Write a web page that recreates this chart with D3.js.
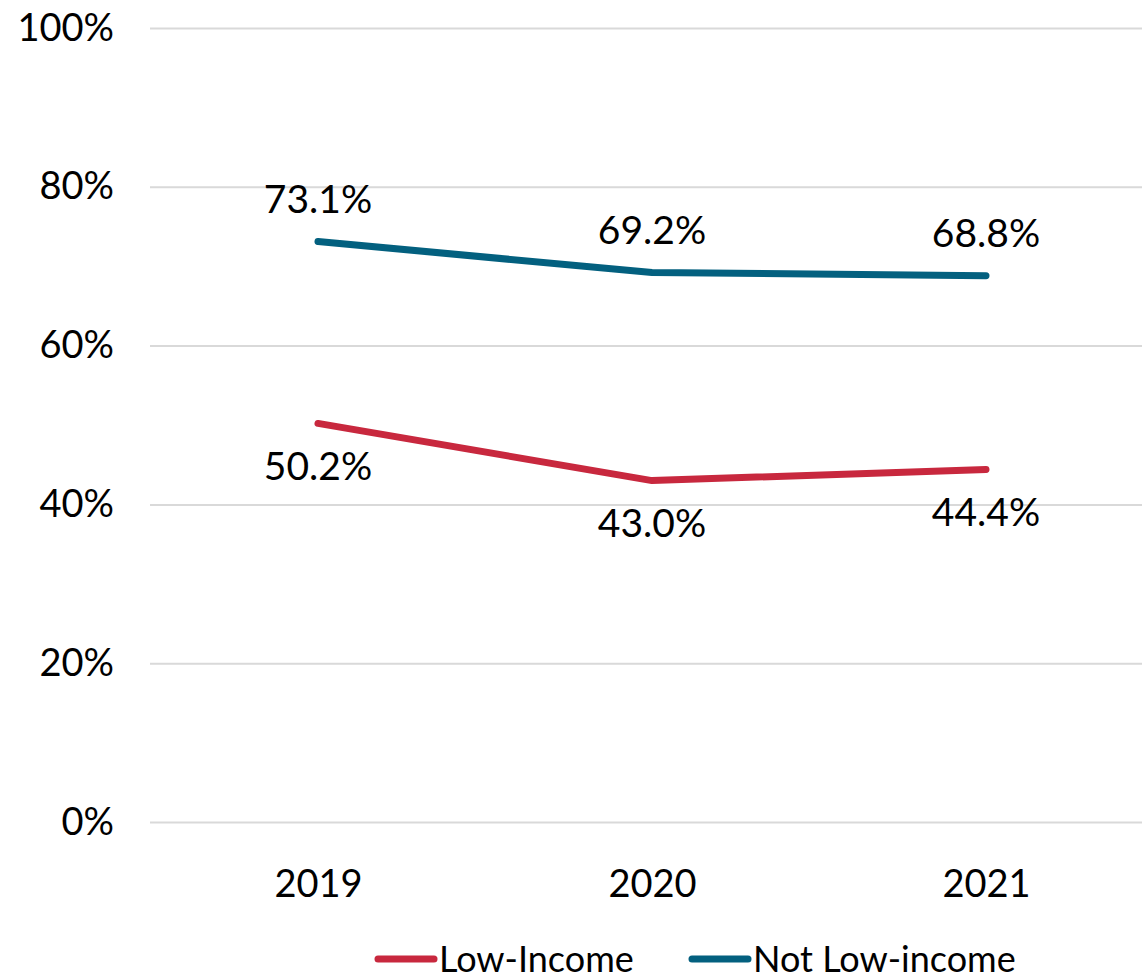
<!DOCTYPE html>
<html><head><meta charset="utf-8">
<script src="https://cdn.jsdelivr.net/npm/d3@7"></script>
<style>body{margin:0;background:#fff;} svg{display:block;} text{font-family:Lato, sans-serif;fill:#000;}</style>
</head><body>
<svg id="c" width="1142" height="980"></svg>
<script>
const years = ["2019", "2020", "2021"];
const lowIncome = [50.2, 43.0, 44.4];
const notLowIncome = [73.1, 69.2, 68.8];
const yTicks = [0, 20, 40, 60, 80, 100];
const seriesNames = ["Low-Income", "Not Low-income"];
const seriesColors = ["#C8283E", "#03607F"];

const svg = d3.select("#c");
const x = d3.scalePoint().domain(years).range([151, 1153]).padding(0.5);
const y = d3.scaleLinear().domain([0, 100]).range([822, 28]);
const fs = 38;

// gridlines
const yAxis = d3.axisLeft(y).tickValues(yTicks).tickSize(-(1142 - 150)).tickFormat(d => d + "%").tickPadding(36);
const gy = svg.append("g").attr("transform", "translate(150,0)").call(yAxis);
gy.select(".domain").remove();
gy.selectAll(".tick line").attr("stroke", "#d9d9d9").attr("stroke-width", 2);
gy.selectAll(".tick text").style("font-size", fs + "px").style("font-family", "Lato, sans-serif").attr("fill", "#000");

const xAxis = d3.axisBottom(x).tickSize(0).tickPadding(48);
const gx = svg.append("g").attr("transform", "translate(0,822)").call(xAxis);
gx.select(".domain").remove();
gx.selectAll(".tick text").style("font-size", fs + "px").style("font-family", "Lato, sans-serif").attr("fill", "#000");

const series = [lowIncome, notLowIncome];
const line = d3.line().x((d, i) => x(years[i])).y(d => y(d));
series.forEach((vals, s) => {
  svg.append("path").datum(vals).attr("d", line).attr("fill", "none")
    .attr("stroke", seriesColors[s]).attr("stroke-width", 7)
    .attr("stroke-linecap", "round").attr("stroke-linejoin", "round");
  svg.selectAll(null).data(vals).enter().append("text")
    .attr("x", (d, i) => x(years[i]))
    .attr("y", d => y(d) + (s === 0 ? 43 : -42))
    .attr("dy", "0.35em")
    .attr("text-anchor", "middle")
    .style("font-size", "39px")
    .text(d => d.toFixed(1) + "%");
});

// legend
const legendX = [378, 692];
seriesNames.forEach((n, i) => {
  const g = svg.append("g").attr("transform", `translate(${legendX[i]},959)`);
  g.append("line").attr("x1", 0).attr("x2", 56).attr("y1", 0).attr("y2", 0)
    .attr("stroke", seriesColors[i]).attr("stroke-width", 7).attr("stroke-linecap", "round");
  g.append("text").attr("x", 61).attr("dy", "0.35em").style("font-size", "36px").text(n);
});
</script>
</body></html>
